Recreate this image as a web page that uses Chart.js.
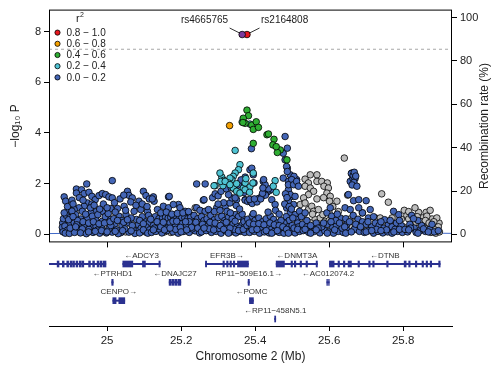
<!DOCTYPE html>
<html>
<head>
<meta charset="utf-8">
<script src="https://cdn.jsdelivr.net/npm/chart.js@4.4.1/dist/chart.umd.min.js"></script>
<style>
  body { margin: 0; background: #fff; }
  #wrap { position: relative; width: 494px; height: 371px; }
  canvas { position: absolute; left: 0; }
  #top { top: 0; }
  #genes { top: 248px; }
</style>
</head>
<body>
<div id="wrap">
  <canvas id="top" width="494" height="252"></canvas>
  <canvas id="genes" width="494" height="123"></canvas>
</div>
<script>
// axes
const xMin = 24.843, xMax = 25.932;
const xTicks = [25.0, 25.2, 25.4, 25.6, 25.8];
const pTicks = [0, 2, 4, 6, 8];
const recTicks = [0, 20, 40, 60, 80, 100];
const gwsLevel = 7.3;

// r2 legend
const r2Labels = ['0.8 \u2212 1.0', '0.6 \u2212 0.8', '0.4 \u2212 0.6', '0.2 \u2212 0.4', '0.0 \u2212 0.2'];
const r2Colors = ['#e8161d', '#f4a000', '#2fae33', '#4fc3d3', '#4466b6'];
const indexColor = '#7b3a9c';
const noLdColor = '#bdbdbd';

// lead SNPs [Mb, -log10 P]
const snpNames = ['rs4665765', 'rs2164808'];
const snpIndex = [[25.365, 7.88]];
const snpTop = [[25.378, 7.88]];

// other SNPs, by r2 class
const snpOrange = [[25.331, 4.29]];
const snpGreen = [
  [25.378,4.90],[25.382,4.68],[25.368,4.58],[25.373,4.38],[25.367,4.41],[25.391,4.31],[25.403,4.44],
  [25.395,4.14],[25.409,4.22],[25.432,3.93],[25.436,3.96],[25.451,3.75],[25.448,3.53],[25.395,3.59],
  [25.468,3.33],[25.460,3.23],[25.457,3.46],[25.486,2.94]
];
const snpCyan = [
  [25.365,4.43],[25.386,4.35],[25.346,3.31],[25.359,2.75],[25.355,2.55],[25.346,2.42],[25.341,2.29],
  [25.337,2.16],[25.332,2.22],[25.328,2.03],[25.310,2.26],[25.315,2.13],[25.292,1.92],[25.313,1.92],
  [25.341,1.83],[25.350,2.00],[25.368,1.83],[25.373,2.03],[25.386,1.87],[25.454,2.12],[25.449,1.90],
  [25.289,1.92],[25.305,2.42],[25.307,2.09],[25.319,2.09],[25.332,1.96],[25.350,1.70],[25.359,1.63],
  [25.373,1.76],[25.385,1.66],[25.395,2.42],[25.394,2.03],[25.457,1.66],[25.375,2.20]
];
const snpBlue = [
  // 24.88 - 25.0
  [24.884,1.48],[24.888,1.31],[24.905,1.35],[24.917,1.79],[24.931,1.76],[24.917,1.63],[24.938,1.61],
  [24.951,1.66],[24.959,1.50],[24.945,1.99],[24.968,1.37],[24.947,1.24],[24.959,1.20],[24.938,1.11],
  [24.924,1.05],[24.911,0.98],[24.895,0.98],[24.902,0.82],[24.978,1.53],[24.987,1.61],[24.996,1.57],
  [24.933,0.91],[24.915,0.78],[24.929,0.61],[24.947,0.65],[24.969,0.59],[24.987,0.52],[24.987,0.91],
  [24.969,0.89],[24.956,0.85],[24.888,0.52],[24.897,0.39],[24.911,0.46],[24.925,0.35],[24.940,0.37],
  [24.955,0.31],[24.970,0.33],[24.985,0.28],[24.880,0.45],[24.882,0.62],[24.890,0.75],[24.920,0.55],
  [24.960,0.72],[24.975,0.78],[24.995,0.70],[24.900,0.66],[24.942,0.80],[24.879,0.28],[24.905,0.92],
  [24.886,0.33],[24.893,0.17],[24.906,0.13],[24.920,0.20],[24.933,0.22],[24.951,0.20],[24.974,0.17],
  [24.992,0.13],[24.881,0.10],[24.887,0.05],[24.898,0.04],[24.912,0.08],[24.928,0.06],[24.944,0.03],
  [24.962,0.08],[24.980,0.05],[24.998,0.06],[24.893,1.10],[24.908,1.20],[24.925,1.45],[24.935,1.35],
  [24.955,1.05],[24.965,1.15],[24.980,1.00],[24.990,1.20],[24.884,0.85],[24.896,0.58],[24.908,0.70],
  [24.918,0.38],[24.935,0.50],[24.950,0.45],[24.963,0.50],[24.978,0.42],[24.993,0.45],[24.900,0.25],
  [24.915,0.30],[24.950,0.10],[24.968,0.12],[24.985,0.15],
  // 25.0 - 25.116
  [25.014,2.12],[25.005,1.48],[25.014,1.44],[25.055,1.70],[25.098,1.70],[25.059,1.54],[25.068,1.44],
  [25.064,1.28],[25.086,1.31],[25.105,1.53],[25.114,1.40],[25.046,1.11],[25.028,1.02],[25.010,1.02],
  [25.073,0.91],[25.091,0.98],[25.109,0.91],[25.010,0.59],[25.032,0.72],[25.051,0.78],[25.079,0.59],
  [25.100,0.52],[25.114,0.46],[25.020,0.40],[25.040,0.35],[25.060,0.45],[25.085,0.38],[25.105,0.30],
  [25.003,0.82],[25.022,0.88],[25.040,0.55],[25.065,0.65],[25.095,0.70],[25.112,0.75],[25.050,0.95],
  [25.014,0.09],[25.037,0.07],[25.059,0.09],[25.082,0.13],[25.105,0.09],[25.005,0.22],[25.025,0.18],
  [25.048,0.22],[25.070,0.20],[25.092,0.25],[25.115,0.18],[25.030,0.03],[25.075,0.04],[25.010,0.35],
  [25.000,1.05],[25.020,1.25],[25.035,1.40],[25.045,1.55],[25.078,1.15],[25.095,1.20],[25.108,1.10],
  [25.008,0.50],[25.018,0.62],[25.028,0.55],[25.045,0.48],[25.055,0.58],[25.068,0.35],[25.088,0.55],
  [25.098,0.42],[25.000,0.10],[25.022,0.12],[25.042,0.15],[25.065,0.14],[25.088,0.06],[25.098,0.18],
  [25.110,0.05],
  // 25.116 - 25.25
  [25.125,1.48],[25.127,1.31],[25.122,1.40],[25.166,1.48],[25.168,1.50],[25.152,1.11],[25.166,1.05],
  [25.193,1.18],[25.197,1.05],[25.136,0.98],[25.211,0.91],[25.224,0.78],[25.242,1.05],[25.242,1.99],
  [25.179,1.18],[25.130,0.70],[25.140,0.62],[25.150,0.66],[25.158,0.68],[25.165,0.64],[25.172,0.67],
  [25.180,0.65],[25.187,0.68],[25.195,0.64],[25.202,0.67],[25.210,0.66],[25.218,0.62],[25.226,0.68],
  [25.145,0.85],[25.160,0.88],[25.175,0.80],[25.190,0.83],[25.205,0.85],[25.220,0.90],[25.235,0.75],
  [25.245,0.62],[25.125,0.35],[25.140,0.40],[25.155,0.32],[25.170,0.45],[25.185,0.38],[25.200,0.42],
  [25.215,0.35],[25.230,0.40],[25.245,0.36],[25.135,0.50],[25.178,0.52],[25.222,0.50],[25.120,0.08],
  [25.132,0.12],[25.148,0.06],[25.162,0.15],[25.178,0.10],[25.192,0.05],[25.207,0.12],[25.222,0.08],
  [25.238,0.14],[25.250,0.06],[25.140,0.22],[25.185,0.20],[25.230,0.22],[25.118,0.60],[25.128,0.25],
  [25.145,0.30],[25.152,0.48],[25.163,0.25],[25.188,0.52],[25.198,0.28],[25.212,0.50],[25.228,0.28],
  [25.240,0.48],[25.125,0.18],[25.155,0.18],[25.170,0.25],[25.200,0.10],[25.215,0.18],[25.245,0.25],
  // 25.25 - 25.373
  [25.251,0.95],[25.265,1.99],[25.260,1.35],[25.262,1.37],[25.265,0.91],[25.274,0.98],[25.296,1.05],
  [25.319,1.11],[25.332,1.24],[25.337,1.44],[25.350,1.37],[25.328,1.57],[25.349,1.14],[25.324,0.91],
  [25.346,0.78],[25.373,1.37],[25.368,0.59],[25.359,2.03],[25.373,2.26],[25.346,1.44],[25.285,1.45],
  [25.292,1.60],[25.300,1.52],[25.308,1.70],[25.322,1.80],[25.335,1.85],[25.345,1.78],[25.355,1.95],
  [25.362,2.15],[25.370,1.65],[25.255,0.70],[25.262,0.55],[25.270,0.62],[25.280,0.75],[25.290,0.58],
  [25.300,0.66],[25.310,0.72],[25.318,0.55],[25.328,0.68],[25.338,0.62],[25.355,0.70],[25.365,0.80],
  [25.258,0.40],[25.272,0.32],[25.285,0.38],[25.298,0.30],[25.312,0.42],[25.325,0.35],[25.340,0.40],
  [25.352,0.32],[25.365,0.38],[25.255,0.10],[25.268,0.15],[25.282,0.08],[25.295,0.12],[25.308,0.05],
  [25.320,0.14],[25.335,0.10],[25.348,0.06],[25.360,0.12],[25.372,0.08],[25.276,0.22],[25.302,0.24],
  [25.344,0.20],[25.290,0.90],[25.305,0.95],[25.333,0.85],[25.358,1.00],[25.315,1.25],[25.300,1.20],
  [25.262,0.25],[25.278,0.48],[25.292,0.45],[25.306,0.35],[25.322,0.48],[25.332,0.25],[25.346,0.52],
  [25.358,0.25],[25.370,0.50],[25.288,0.18],[25.315,0.20],[25.328,0.05],[25.355,0.15],[25.368,0.20],
  // 25.373 - 25.522
  [25.373,1.35],[25.380,1.30],[25.388,1.28],[25.395,1.30],[25.402,1.35],[25.410,1.42],[25.418,1.50],
  [25.425,1.58],[25.432,1.66],[25.438,1.72],[25.444,1.78],[25.392,1.22],[25.405,1.28],[25.415,1.40],
  [25.428,1.55],[25.385,1.38],[25.398,1.40],[25.420,1.62],[25.436,1.80],[25.390,3.38],[25.422,2.09],
  [25.427,1.96],[25.421,1.83],[25.397,2.03],[25.423,2.16],[25.395,2.35],[25.386,2.55],[25.391,2.61],
  [25.476,2.22],[25.481,2.94],[25.476,3.20],[25.487,3.40],[25.481,3.86],[25.487,2.61],[25.495,2.35],
  [25.490,2.09],[25.504,2.22],[25.508,2.03],[25.512,2.16],[25.490,1.76],[25.499,1.50],[25.485,2.68],
  [25.487,2.48],[25.505,2.29],[25.499,2.16],[25.490,1.96],[25.504,1.96],[25.512,2.09],[25.517,1.90],
  [25.495,1.57],[25.508,1.50],[25.490,1.31],[25.504,1.18],[25.485,1.05],[25.495,0.85],[25.508,0.78],
  [25.512,0.59],[25.520,0.91],[25.445,1.37],[25.454,1.18],[25.482,1.60],[25.486,1.45],[25.480,1.20],
  [25.492,1.10],[25.498,1.00],[25.484,0.70],[25.492,0.55],[25.502,0.65],[25.515,0.45],[25.488,0.30],
  [25.500,0.35],[25.478,0.45],[25.380,0.60],[25.392,0.72],[25.400,0.55],[25.410,0.65],[25.420,0.50],
  [25.430,0.62],[25.441,0.72],[25.450,0.59],[25.460,0.45],[25.470,0.55],[25.378,0.35],[25.390,0.28],
  [25.405,0.32],[25.418,0.25],[25.432,0.30],[25.445,0.22],[25.458,0.28],[25.472,0.20],[25.385,0.08],
  [25.398,0.12],[25.412,0.05],[25.425,0.10],[25.438,0.06],[25.452,0.12],[25.465,0.08],[25.478,0.05],
  [25.495,0.10],[25.508,0.06],[25.520,0.12],[25.395,0.82],[25.435,0.88],[25.455,0.95],[25.465,0.80],
  [25.384,0.45],[25.396,0.40],[25.410,0.42],[25.424,0.38],[25.440,0.45],[25.452,0.38],[25.465,0.35],
  [25.475,0.30],[25.485,0.20],[25.505,0.25],[25.518,0.30],[25.392,0.18],[25.405,0.20],[25.430,0.15],
  [25.445,0.05],[25.460,0.15],[25.490,0.05],[25.515,0.20],
  // 25.522 - 25.657
  [25.594,0.85],[25.603,1.05],[25.607,0.72],[25.630,0.65],[25.643,1.05],[25.657,0.98],[25.652,1.57],
  [25.657,2.09],[25.661,2.42],[25.664,2.22],[25.528,0.40],[25.540,0.30],[25.555,0.22],[25.530,0.15],
  [25.545,0.08],[25.560,0.12],[25.575,0.06],[25.588,0.15],[25.600,0.10],[25.612,0.05],[25.625,0.12],
  [25.638,0.08],[25.650,0.15],[25.580,0.30],[25.595,0.40],[25.610,0.28],[25.620,0.35],[25.635,0.25],
  [25.648,0.40],[25.540,0.55],[25.565,0.45],[25.618,0.55],[25.645,0.62],[25.525,0.70],[25.535,0.85],
  [25.622,0.80],[25.535,0.20],[25.550,0.35],[25.570,0.25],[25.585,0.45],[25.605,0.50],[25.628,0.45],
  [25.642,0.30],[25.655,0.50],[25.550,0.05],[25.565,0.18],[25.595,0.05],[25.615,0.18],[25.645,0.05],
  // 25.657 - 25.805
  [25.660,2.40],[25.665,2.32],[25.670,2.20],[25.667,2.05],[25.662,1.95],[25.675,1.90],[25.668,2.45],
  [25.672,2.30],[25.666,1.33],[25.680,1.37],[25.700,1.33],[25.711,0.98],[25.706,0.65],[25.774,0.91],
  [25.788,0.78],[25.665,0.75],[25.678,0.60],[25.690,0.50],[25.700,0.40],[25.715,0.30],[25.725,0.45],
  [25.735,0.35],[25.748,0.25],[25.760,0.40],[25.770,0.30],[25.782,0.45],[25.795,0.35],[25.668,0.20],
  [25.682,0.12],[25.695,0.08],[25.708,0.15],[25.720,0.05],[25.732,0.12],[25.745,0.06],[25.758,0.10],
  [25.770,0.05],[25.785,0.12],[25.798,0.08],[25.690,0.85],[25.720,0.70],[25.750,0.58],[25.680,1.05],
  [25.672,0.40],[25.685,0.30],[25.705,0.50],[25.728,0.20],[25.740,0.50],[25.755,0.18],[25.765,0.55],
  [25.778,0.20],[25.790,0.55],[25.660,0.10],[25.700,0.10],[25.715,0.15],[25.740,0.15],[25.775,0.10],
  [25.790,0.20],
  // 25.805 - 25.9
  [25.823,0.75],[25.818,0.40],[25.830,0.25],[25.845,0.15],[25.812,0.10],[25.835,0.08],[25.850,0.35],
  [25.860,0.12],[25.872,0.20],[25.884,0.10],[25.895,0.15],[25.840,0.55],[25.828,0.62],[25.805,0.20],
  [25.820,0.25],[25.855,0.22],[25.878,0.40],[25.815,0.18],[25.840,0.05],[25.868,0.10]
];
const snpNoLd = [
  [25.641,3.01],[25.549,2.35],[25.567,2.35],[25.535,2.18],[25.544,2.03],[25.535,1.90],[25.549,1.83],
  [25.567,2.09],[25.580,2.09],[25.595,2.03],[25.586,1.90],[25.598,1.83],[25.594,1.63],[25.603,1.50],
  [25.601,1.31],[25.621,1.31],[25.558,1.70],[25.544,1.57],[25.531,1.44],[25.522,1.18],[25.535,1.24],
  [25.544,0.98],[25.553,1.11],[25.558,0.91],[25.571,0.98],[25.562,0.59],[25.576,0.65],[25.589,0.52],
  [25.549,0.46],[25.616,0.46],[25.530,0.75],[25.555,0.80],[25.583,0.78],[25.600,0.85],[25.612,0.70],
  [25.625,0.90],[25.540,0.30],[25.575,0.35],[25.605,0.25],[25.630,0.40],[25.655,0.30],[25.567,1.40],
  [25.585,1.45],[25.610,1.10],[25.650,1.55],[25.742,1.60],[25.760,1.27],[25.803,0.95],[25.810,0.75],
  [25.815,0.61],[25.842,0.87],[25.862,0.87],[25.878,0.61],[25.852,0.65],[25.690,0.85],[25.675,0.55],
  [25.725,0.65],[25.738,0.65],[25.760,0.50],[25.780,0.42],[25.800,0.30],[25.855,0.40],[25.868,0.30],
  [25.880,0.35],[25.890,0.25],[25.897,0.45],[25.865,0.15],[25.875,0.08],[25.888,0.05],[25.843,0.25],
  [25.830,0.45],[25.700,0.20],[25.745,0.40],[25.770,0.65],[25.832,1.05],[25.873,0.95],[25.864,0.72],
  [25.891,0.65],[24.890,0.65],[24.970,0.22],[24.880,0.15],[25.155,0.10],[25.130,0.20],[25.240,0.60],
  [25.172,0.08],[25.202,0.15],[25.225,0.15],[25.245,0.18],[25.050,0.10],[25.380,0.12],[25.420,0.18],
  [25.340,0.15],[25.190,0.55],[25.238,1.05],[25.820,0.35],[25.848,0.50],[25.860,0.55],[25.870,0.45],
  [25.883,0.50],[25.895,0.30],[25.858,0.25],[25.885,0.18],[25.898,0.10],[25.838,0.70],[25.815,0.90],
  [25.795,0.60],[25.725,0.30],[25.760,0.28],[25.690,0.35],[25.655,0.60],[25.635,0.60],[25.520,0.55],
  [25.600,0.55]
];

// recombination rate (%)
const recPos = [24.843, 24.90, 24.95, 25.00, 25.05, 25.10, 25.16, 25.22, 25.28, 25.34, 25.40, 25.45,
  25.478, 25.484, 25.490, 25.53, 25.58, 25.624, 25.629, 25.634, 25.68, 25.74, 25.80, 25.818, 25.822,
  25.826, 25.87, 25.932];
const recRate = [0.4, 0.5, 0.4, 0.6, 0.5, 0.7, 0.8, 0.6, 0.5, 0.7, 0.6, 0.9,
  1.2, 21.5, 1.2, 0.8, 0.7, 1.0, 8.4, 1.0, 0.8, 0.7, 0.9, 1.0, 4.5,
  1.0, 0.6, 0.5];

// genes (Mb)
const geneNames = ['NCOA1', 'ADCY3', 'EFR3B', 'DNMT3A', 'DTNB', 'PTRHD1', 'DNAJC27', 'RP11\u2212509E16.1',
  'AC012074.2', 'CENPO', 'POMC', 'RP11\u2212458N5.1'];
const geneStart = [24.700, 25.0424, 25.2657, 25.4568, 25.6008, 25.0125, 25.1676, 25.381, 25.5937, 25.0154, 25.3846, 25.4527];
const geneEnd = [24.9965, 25.1435, 25.3819, 25.5684, 25.900, 25.0165, 25.1992, 25.3845, 25.6003, 25.0478, 25.3954, 25.4557];
const geneStrand = ['+', '-', '+', '-', '-', '-', '-', '+', '-', '+', '-', '-'];
const geneRow = [1, 1, 1, 1, 1, 2, 2, 2, 2, 3, 3, 4];
const geneExons = [
  [[24.865,24.870],[24.879,24.884],[24.891,24.896],[24.900,24.905],[24.907,24.912],[24.916,24.921],
   [24.925,24.930],[24.932,24.937],[24.950,24.955],[24.961,24.966],[24.973,24.978],[24.981,24.986],[24.989,24.997]],
  [[25.0424,25.0695],[25.0955,25.1035],[25.1400,25.1435]],
  [[25.2657,25.2690],[25.313,25.317],[25.323,25.327],[25.332,25.336],[25.341,25.345],[25.3522,25.3819]],
  [[25.4568,25.4792],[25.497,25.501],[25.506,25.510],[25.5215,25.5255],[25.5375,25.5415],[25.5648,25.5684]],
  [[25.6008,25.6135],[25.624,25.628],[25.6385,25.6425],[25.6512,25.6603],[25.678,25.682],[25.7069,25.7109],
   [25.7177,25.7217],[25.7555,25.7595],[25.8027,25.8081],[25.815,25.819],[25.833,25.837],[25.851,25.855],
   [25.862,25.866],[25.873,25.877],[25.896,25.900]],
  [[25.0125,25.0165]],
  [[25.1676,25.1735],[25.176,25.1815],[25.184,25.189],[25.1915,25.1992]],
  [[25.381,25.3845]],
  [[25.5937,25.5955],[25.5985,25.6003]],
  [[25.0154,25.0243],[25.0316,25.0478]],
  [[25.3846,25.3954]],
  [[25.4527,25.4557]]
];

const FONT = '"Liberation Sans", Arial, sans-serif';
const TEXT = '#222';
const GENE = '#2b3190';
Chart.defaults.font.family = FONT;
Chart.defaults.color = TEXT;

const toPts = a => a.map(([x, y]) => ({ x, y }));
function snpSet(pts, color) {
  return {
    type: 'scatter', data: toPts(pts), yAxisID: 'y',
    pointRadius: 3.3, pointHoverRadius: 3.3, pointBorderWidth: 0.8,
    pointBackgroundColor: color, pointBorderColor: '#000'
  };
}
const setTicks = arr => scale => { scale.ticks = arr.map(v => ({ value: v })); };
const fixWidth = w => scale => { scale.width = w; };
const fixHeight = h => scale => { scale.height = h; };

// box round the plot area
const frame = {
  id: 'frame',
  afterDraw(c) {
    const a = c.chartArea, ctx = c.ctx;
    ctx.save();
    ctx.strokeStyle = '#000';
    ctx.lineWidth = 1;
    ctx.strokeRect(a.left + 0.5, a.top + 0.5, a.width - 1, a.height - 1);
    ctx.restore();
  }
};

// r2 legend inside the plot
const r2Legend = {
  id: 'r2Legend',
  afterDatasetsDraw(c) {
    const a = c.chartArea, ctx = c.ctx;
    ctx.save();
    ctx.fillStyle = TEXT;
    ctx.textBaseline = 'alphabetic';
    ctx.font = '11px ' + FONT;
    ctx.fillText('r', a.left + 27, a.top + 12);
    ctx.font = '7px ' + FONT;
    ctx.fillText('2', a.left + 31, a.top + 7);
    r2Labels.forEach((lab, i) => {
      const y = a.top + 23 + i * 11.2;
      ctx.beginPath();
      ctx.arc(a.left + 8.5, y, 2.6, 0, 2 * Math.PI);
      ctx.fillStyle = r2Colors[i];
      ctx.fill();
      ctx.lineWidth = 0.8;
      ctx.strokeStyle = '#000';
      ctx.stroke();
      ctx.fillStyle = TEXT;
      ctx.font = '10px ' + FONT;
      ctx.textBaseline = 'middle';
      ctx.fillText(lab, a.left + 17.5, y + 0.5);
    });
    ctx.restore();
  }
};

// names of the two lead SNPs
const snpLabels = {
  id: 'snpLabels',
  afterDatasetsDraw(c) {
    const ctx = c.ctx, xs = c.scales.x, ys = c.scales.y;
    const leads = [snpIndex[0], snpTop[0]];
    ctx.save();
    ctx.font = '10px ' + FONT;
    ctx.fillStyle = TEXT;
    ctx.strokeStyle = '#000';
    ctx.lineWidth = 0.8;
    ctx.textBaseline = 'middle';
    leads.forEach((p, i) => {
      const px = xs.getPixelForValue(p[0]), py = ys.getPixelForValue(p[1]);
      const s = i === 0 ? -1 : 1;
      ctx.beginPath();
      ctx.moveTo(px + s * 2.5, py - 1.5);
      ctx.lineTo(px + s * 12.5, py - 6.5);
      ctx.stroke();
      ctx.textAlign = i === 0 ? 'right' : 'left';
      ctx.fillText(snpNames[i], px + s * 14, py - 14);
    });
    ctx.restore();
  }
};

// right axis title, reading upwards
const recTitle = {
  id: 'recTitle',
  afterDraw(c) {
    const a = c.chartArea, ctx = c.ctx;
    ctx.save();
    ctx.translate(485, (a.top + a.bottom) / 2);
    ctx.rotate(-Math.PI / 2);
    ctx.font = '12px ' + FONT;
    ctx.fillStyle = TEXT;
    ctx.textAlign = 'center';
    ctx.textBaseline = 'middle';
    ctx.fillText('Recombination rate (%)', 0, 0);
    ctx.restore();
  }
};

const tickGrid = { drawOnChartArea: false, drawTicks: true, tickLength: 5, color: '#000', lineWidth: 1 };

new Chart(document.getElementById('top'), {
  type: 'scatter',
  data: {
    datasets: [
      snpSet(snpIndex, indexColor),
      snpSet(snpTop, r2Colors[0]),
      snpSet(snpOrange, r2Colors[1]),
      snpSet(snpGreen, r2Colors[2]),
      snpSet(snpCyan, r2Colors[3]),
      snpSet(snpBlue, r2Colors[4]),
      snpSet(snpNoLd, noLdColor),
      {
        type: 'line', yAxisID: 'y',
        data: [{ x: xMin, y: gwsLevel }, { x: xMax, y: gwsLevel }],
        borderColor: '#a8a8a8', borderWidth: 1, borderDash: [3, 3], pointRadius: 0
      },
      {
        type: 'line', yAxisID: 'y2',
        data: recPos.map((x, i) => ({ x, y: recRate[i] })),
        borderColor: '#4169c8', borderWidth: 1, pointRadius: 0, tension: 0
      }
    ]
  },
  options: {
    responsive: false,
    animation: false,
    events: [],
    layout: { padding: { top: 9, left: 0, right: 0, bottom: 0 } },
    plugins: { legend: { display: false }, tooltip: { enabled: false } },
    scales: {
      x: {
        type: 'linear', min: xMin, max: xMax,
        afterBuildTicks: setTicks(xTicks),
        afterFit: fixHeight(9),
        ticks: { display: false },
        grid: tickGrid,
        border: { display: false }
      },
      y: {
        type: 'linear', position: 'left', min: -0.314, max: 8.863,
        afterBuildTicks: setTicks(pTicks),
        afterFit: fixWidth(49),
        ticks: { font: { size: 11 }, color: TEXT, padding: 3 },
        grid: tickGrid,
        border: { display: false },
        title: { display: true, text: '\u2212log\u2081\u2080 P', font: { size: 12 }, color: TEXT, padding: { top: 8, bottom: 0 } }
      },
      y2: {
        type: 'linear', position: 'right', min: -3.67, max: 103.67,
        afterBuildTicks: setTicks(recTicks),
        afterFit: fixWidth(42),
        ticks: { font: { size: 11 }, color: TEXT, padding: 3 },
        grid: tickGrid,
        border: { display: false }
      }
    }
  },
  plugins: [frame, r2Legend, snpLabels, recTitle]
});

// gene track
const geneLabels = {
  id: 'geneLabels',
  afterDatasetsDraw(c) {
    const ctx = c.ctx, xs = c.scales.x, ys = c.scales.y, a = c.chartArea;
    ctx.save();
    ctx.font = '8px ' + FONT;
    ctx.fillStyle = '#333';
    ctx.textAlign = 'center';
    ctx.textBaseline = 'middle';
    geneNames.forEach((name, i) => {
      const label = geneStrand[i] === '+' ? name + '\u2192' : '\u2190' + name;
      const px = xs.getPixelForValue((geneStart[i] + geneEnd[i]) / 2);
      const w = ctx.measureText(label).width;
      if (px - w / 2 < a.left || px + w / 2 > a.right) return;
      ctx.fillText(label, px, ys.getPixelForValue(geneRow[i]) - 8.5);
    });
    ctx.restore();
  }
};

const intronData = geneNames.map((n, i) => ({ x: [geneStart[i], geneEnd[i]], y: geneRow[i] }));
const exonData = [];
geneExons.forEach((list, i) => list.forEach(e => exonData.push({ x: [e[0], e[1]], y: geneRow[i] })));

new Chart(document.getElementById('genes'), {
  type: 'bar',
  data: {
    datasets: [
      { data: exonData, backgroundColor: GENE, barThickness: 6, grouped: false },
      { data: intronData, backgroundColor: GENE, barThickness: 1.3, grouped: false }
    ]
  },
  options: {
    indexAxis: 'y',
    responsive: false,
    animation: false,
    events: [],
    layout: { padding: { top: 4, left: 49, right: 42, bottom: 0 } },
    plugins: { legend: { display: false }, tooltip: { enabled: false } },
    scales: {
      x: {
        type: 'linear', min: xMin, max: xMax,
        afterBuildTicks: setTicks(xTicks),
        afterFit: fixHeight(45),
        ticks: { font: { size: 11.5 }, color: TEXT, padding: 3, callback: v => String(+v.toFixed(1)) },
        grid: tickGrid,
        border: { display: true, color: '#000', width: 1 },
        title: { display: true, text: 'Chromosome 2 (Mb)', font: { size: 12 }, color: TEXT, padding: { top: 4, bottom: 7 } }
      },
      y: { type: 'linear', reverse: true, min: 0.345, max: 4.382, display: false, offset: false }
    }
  },
  plugins: [geneLabels]
});
</script>
</body>
</html>
